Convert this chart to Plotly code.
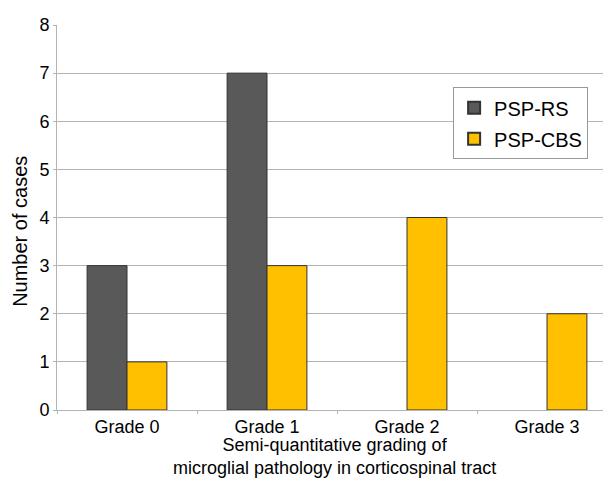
import plotly.graph_objects as go

categories = ["Grade 0", "Grade 1", "Grade 2", "Grade 3"]
psp_rs = [3, 7, 0, 0]
psp_cbs = [1, 3, 4, 2]
x_title = "Semi-quantitative grading of<br>microglial pathology in corticospinal tract"
y_title = "Number of cases"

def outline(vals):
    return [1 if v > 0 else 0 for v in vals]

fig = go.Figure()
fig.add_trace(go.Bar(name="PSP-RS", x=categories, y=psp_rs, legendgroup="a",
                     marker=dict(color="#595959", line=dict(color="#333333", width=outline(psp_rs)))))
fig.add_trace(go.Bar(name="PSP-CBS", x=categories, y=psp_cbs, legendgroup="b",
                     marker=dict(color="#FFC000", line=dict(color="#333333", width=outline(psp_cbs)))))

font = "Liberation Sans, Arial, sans-serif"
# page body has an 8px margin, so figure is 603x473 drawn at (8,8)
fig.update_layout(
    width=603, height=473,
    margin=dict(l=49, r=0, t=17, b=71),
    paper_bgcolor="white", plot_bgcolor="white",
    barmode="group", bargap=0.43, bargroupgap=0,
    font=dict(family=font, size=18, color="black"),
    legend=dict(x=0.715, y=0.838, xanchor="left", yanchor="top",
                bordercolor="#999999", borderwidth=1, bgcolor="white",
                font=dict(size=20), itemsizing="constant",
                traceorder="grouped", tracegroupgap=2),
    showlegend=True,
)
fig.update_xaxes(
    range=[-0.5, 3.457], showgrid=False, showline=True, linecolor="#b3b3b3",
    ticks="outside", tickson="boundaries", ticklen=3, tickcolor="#b3b3b3",
    tickfont=dict(size=18), automargin=False,
)
fig.update_yaxes(
    range=[0, 8], dtick=1, showgrid=True, gridcolor="#b3b3b3", gridwidth=1,
    showline=True, linecolor="#b3b3b3", ticks="outside", ticklen=3, tickcolor="#b3b3b3",
    tickfont=dict(size=18), zeroline=False, automargin=False,
)
fig.add_annotation(text=x_title, xref="paper", yref="paper", x=0.5, y=-0.061,
                   xanchor="center", yanchor="top", showarrow=False,
                   font=dict(size=18))
fig.add_annotation(text=y_title, xref="paper", yref="paper", x=-0.067, y=0.465,
                   xanchor="center", yanchor="middle", textangle=-90, showarrow=False,
                   font=dict(size=20))
fig.write_html("out.html")
